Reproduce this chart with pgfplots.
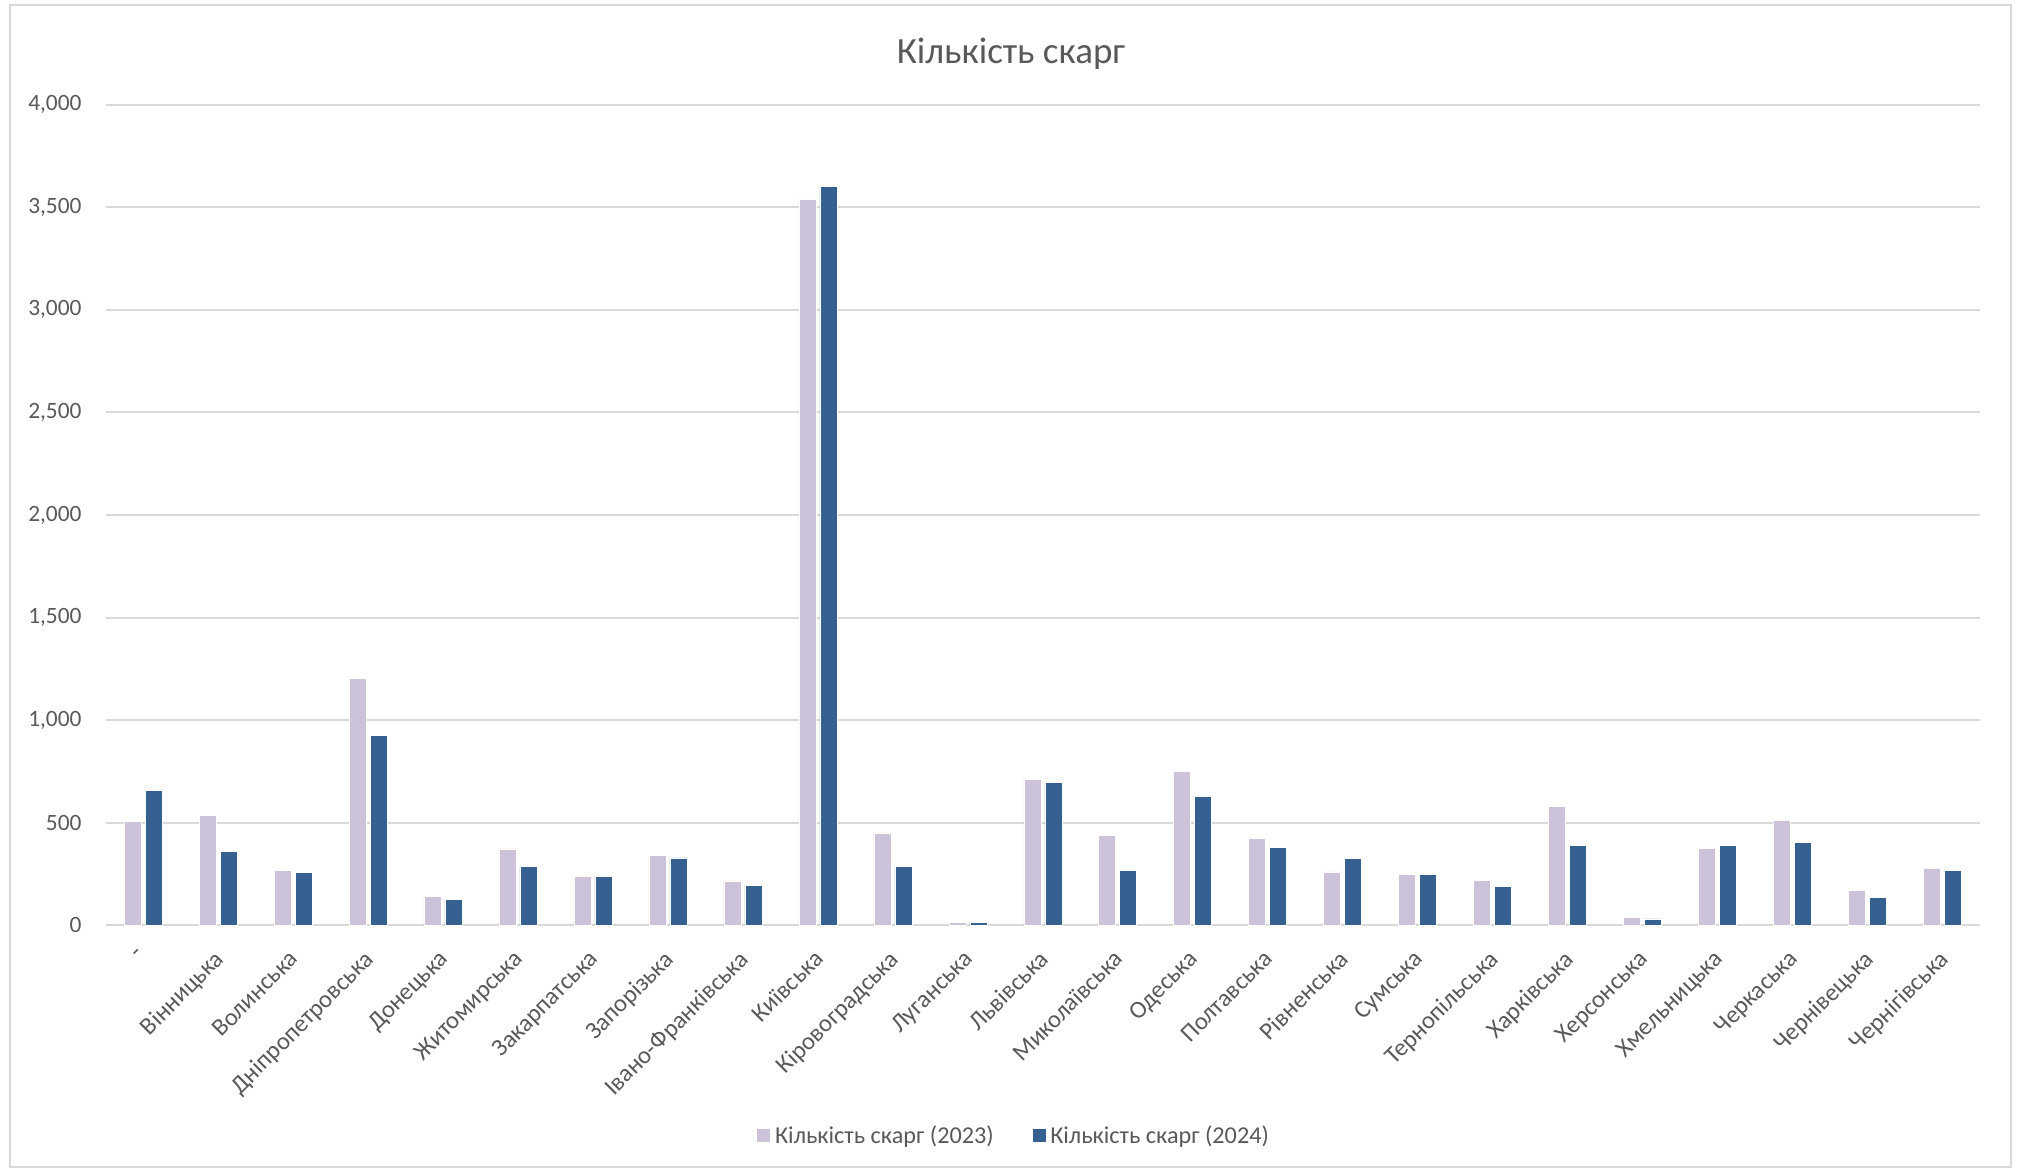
\documentclass[border=0pt]{standalone}
\usepackage{fontspec}
\setmainfont{Carlito}
\usepackage{pgfplots}
\pgfplotsset{compat=1.18}
\definecolor{c23}{HTML}{CCC2DA}
\definecolor{c24}{HTML}{36608F}
\definecolor{txt}{HTML}{595959}
\definecolor{gridc}{HTML}{D9D9D9}
\begin{document}
\begin{tikzpicture}[x=1pt,y=1pt]
\useasboundingbox (0,0) rectangle (1009.5,-584.5);
\draw[gridc, line width=0.8pt] (5,-2.5) rectangle (1005.5,-583.5);
\node[txt, font=\fontsize{18.5}{22}\selectfont] at (505.5,-27) {Кількість скарг};
\begin{axis}[
  at={(52.8pt,-462.65pt)}, anchor=south west,
  scale only axis, width=937.2pt, height=410.4pt,
  ybar=2pt, bar width=8.5pt,
  xmin=-0.5, xmax=24.5, ymin=0, ymax=4000,
  ytick={0,500,...,4000},
  xtick={0,...,24},
  xticklabels={-, Вінницька, Волинська, Дніпропетровська, Донецька, Житомирська, Закарпатська, Запорізька, Івано-Франківська, Київська, Кіровоградська, Луганська, Львівська, Миколаївська, Одеська, Полтавська, Рівненська, Сумська, Тернопільська, Харківська, Херсонська, Хмельницька, Черкаська, Чернівецька, Чернігівська},
  axis line style={draw=none},
  major tick length=0pt,
  ymajorgrids, grid style={gridc, line width=1pt},
  /pgf/number format/.cd, 1000 sep={,}, assume math mode=true,
  /pgfplots/.cd,
  tick label style={txt, font=\fontsize{11.7}{13}\selectfont},
  yticklabel style={anchor=east, xshift=-8.5pt},
  xticklabel style={xshift=-2.5pt, yshift=-11.5pt, rotate=45, anchor=north east, inner sep=0pt, font=\fontsize{12.3}{14}\selectfont},
  legend style={at={(0.485,-0.2563)}, anchor=center, draw=none, legend columns=2,
    font=\fontsize{12.1}{14}\selectfont, text=txt,
    /tikz/every even column/.append style={column sep=17pt}},
  legend image code/.code={\fill[#1] (0pt,-3.5pt) rectangle (7pt,3.5pt);},
]
\addplot[fill=c23, draw=white, line width=0.3pt] coordinates {
(0,505) (1,537) (2,266) (3,1203) (4,140) (5,372) (6,239) (7,341) (8,216) (9,3540)
(10,450) (11,13) (12,712) (13,438) (14,750) (15,425) (16,260) (17,248) (18,219)
(19,578) (20,39) (21,373) (22,513) (23,172) (24,279)};
\addplot[fill=c24, draw=white, line width=0.3pt] coordinates {
(0,659) (1,362) (2,256) (3,925) (4,128) (5,286) (6,240) (7,329) (8,196) (9,3600)
(10,286) (11,16) (12,696) (13,269) (14,628) (15,381) (16,326) (17,248) (18,188)
(19,388) (20,31) (21,391) (22,404) (23,138) (24,266)};
\legend{Кількість скарг (2023), Кількість скарг (2024)}
\end{axis}
\end{tikzpicture}
\end{document}
